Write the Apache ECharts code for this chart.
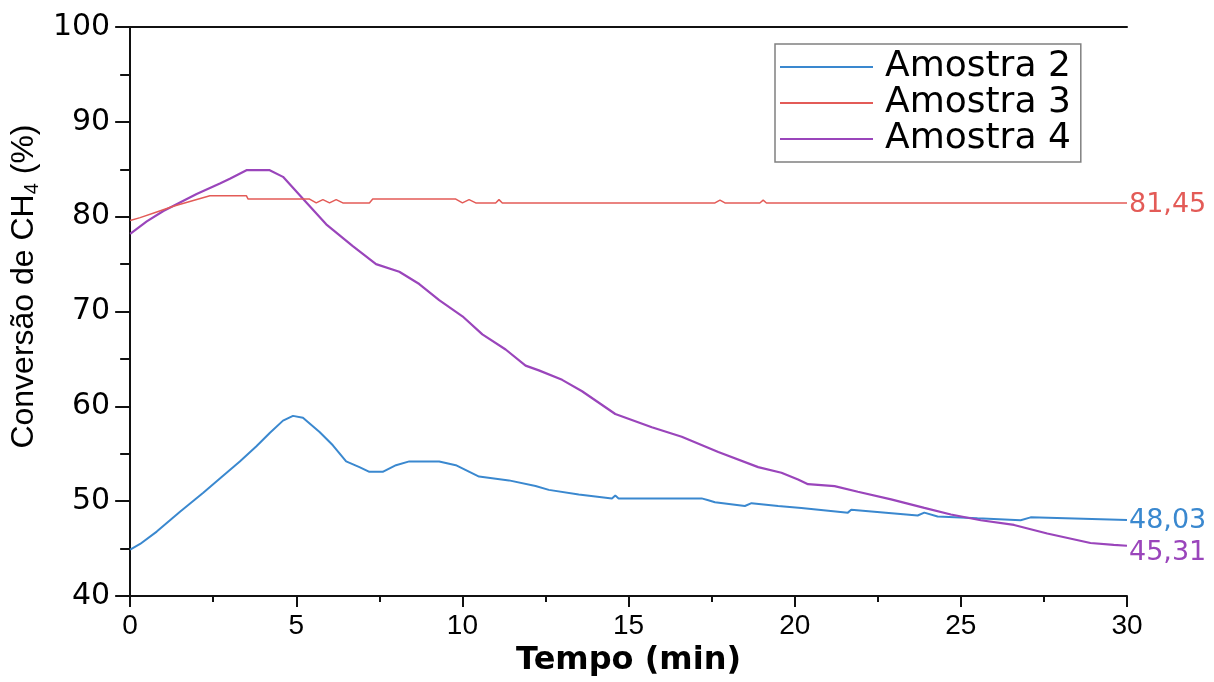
<!DOCTYPE html>
<html>
<head>
<meta charset="utf-8">
<script src="https://cdn.jsdelivr.net/npm/echarts@6/dist/echarts.min.js"></script>
<style>html,body{margin:0;padding:0;background:#fff}#c{width:1214px;height:682px}</style>
</head>
<body>
<div id="c"></div>
<script>
// ---- data ----
const seriesNames = ['Amostra 2', 'Amostra 3', 'Amostra 4'];
const endLabels = ['48,03', '81,45', '45,31'];

const timeA2 = [0, 0.3, 0.8, 1.5, 2.2, 2.7, 3.3, 3.8, 4.2, 4.6, 4.9, 5.2, 5.7, 6.1, 6.5, 6.9, 7.2, 7.6, 8.0, 8.4, 9.3, 9.8, 10.5, 11.4, 12.2, 12.6, 13.5, 14.5, 14.6, 14.7, 17.2, 17.4, 17.6, 18.5, 18.7, 19.5, 20.2, 21.6, 21.7, 23.7, 23.9, 24.3, 25.5, 26.8, 27.1, 30];
const valA2  = [44.9, 45.5, 46.8, 48.9, 50.9, 52.4, 54.2, 55.8, 57.2, 58.5, 59.0, 58.8, 57.3, 55.9, 54.2, 53.6, 53.1, 53.1, 53.8, 54.2, 54.2, 53.8, 52.6, 52.2, 51.6, 51.2, 50.7, 50.3, 50.6, 50.3, 50.3, 50.1, 49.9, 49.5, 49.8, 49.5, 49.3, 48.8, 49.1, 48.5, 48.8, 48.4, 48.2, 48.0, 48.3, 48.03];

const timeA3 = [0, 0.3, 0.8, 1.3, 1.9, 2.4, 3.5, 3.55, 5.4, 5.6, 5.8, 6.0, 6.2, 6.4, 6.6, 7.2, 7.3, 9.8, 10.0, 10.2, 10.4, 10.6, 11.0, 11.1, 11.2, 17.6, 17.75, 17.9, 18.95, 19.05, 19.15, 30];
const valA3  = [79.6, 79.9, 80.5, 81.1, 81.7, 82.2, 82.2, 81.86, 81.86, 81.45, 81.8, 81.45, 81.8, 81.45, 81.45, 81.45, 81.86, 81.86, 81.45, 81.8, 81.45, 81.45, 81.45, 81.8, 81.45, 81.45, 81.75, 81.45, 81.45, 81.75, 81.45, 81.45];

const timeA4 = [0, 0.5, 1.0, 1.5, 2.0, 2.7, 3.0, 3.5, 4.2, 4.6, 5.2, 5.9, 6.7, 7.4, 8.1, 8.7, 9.3, 10.0, 10.6, 11.3, 11.9, 12.3, 13.0, 13.6, 14.6, 15.7, 16.6, 17.7, 18.9, 19.6, 20.1, 20.4, 21.2, 21.9, 22.9, 23.9, 24.7, 25.6, 26.6, 27.6, 28.9, 29.6, 30];
const valA4  = [78.2, 79.5, 80.6, 81.5, 82.4, 83.5, 84.0, 84.9, 84.9, 84.2, 81.9, 79.2, 76.9, 75.0, 74.2, 72.9, 71.2, 69.5, 67.6, 66.0, 64.3, 63.8, 62.8, 61.6, 59.2, 57.8, 56.8, 55.2, 53.6, 53.0, 52.3, 51.8, 51.6, 51.0, 50.2, 49.3, 48.6, 48.0, 47.5, 46.6, 45.6, 45.4, 45.31];

const xTicks = { min: 0, max: 30, interval: 5 };
const yTicks = { min: 40, max: 100, interval: 10 };

// ---- chart ----
const colors = ['#3a88cf', '#e35b57', '#9a45bb'];
const widths = [2, 1.5, 2.2];
const zip = (t, v) => t.map((x, i) => [x, v[i]]);
const dataSets = [zip(timeA2, valA2), zip(timeA3, valA3), zip(timeA4, valA4)];
const labelOffsets = [[0, 1], [0, 2], [0, 7]];

const chart = echarts.init(document.getElementById('c'), null, { renderer: 'canvas' });
const axisLineStyle = { color: '#111', width: 2 };

chart.setOption({
  backgroundColor: '#fff',
  animation: false,
  grid: { left: 130, right: 87, top: 27, bottom: 75, containLabel: false },
  legend: {
    left: 775, top: 44, orient: 'vertical',
    padding: [5, 10, 5, 5],
    icon: 'rect', itemWidth: 93, itemHeight: 2, itemGap: 0,
    borderColor: '#808080', borderWidth: 1.5, backgroundColor: '#fff',
    textStyle: { fontFamily: 'DejaVu Sans', fontSize: 36, lineHeight: 36, color: '#000', padding: [0, 0, 0, 7] },
    data: seriesNames
  },
  xAxis: [{
    type: 'value', min: xTicks.min, max: xTicks.max, interval: xTicks.interval,
    name: 'Tempo (min)', nameLocation: 'middle', nameGap: 40,
    nameTextStyle: { fontFamily: 'DejaVu Sans', fontWeight: 'bold', fontSize: 32, color: '#000' },
    axisLine: { show: true, lineStyle: axisLineStyle },
    axisTick: { show: true, inside: false, length: 11, lineStyle: { color: '#111', width: 2 } },
    minorTick: { show: true, splitNumber: 2, length: 6, lineStyle: { color: '#111', width: 2 } },
    splitLine: { show: false },
    axisLabel: { margin: 16, fontFamily: 'Liberation Sans', fontSize: 28, color: '#000' }
  }, {
    type: 'value', position: 'top', min: xTicks.min, max: xTicks.max,
    axisLine: { show: true, lineStyle: axisLineStyle },
    axisTick: { show: false }, axisLabel: { show: false }, splitLine: { show: false }
  }],
  yAxis: [{
    type: 'value', min: yTicks.min, max: yTicks.max, interval: yTicks.interval,
    name: '{m|Conversão de CH}{s|4}{m| (%)}', nameLocation: 'middle', nameGap: 84, nameRotate: 90,
    nameTextStyle: {
      padding: [0, 0, 0, 50],
      rich: {
        m: { fontFamily: 'Liberation Sans', fontSize: 32, lineHeight: 36, color: '#000' },
        s: { fontFamily: 'Liberation Sans', fontSize: 20, lineHeight: 20, verticalAlign: 'bottom', color: '#000' }
      }
    },
    axisLine: { show: true, lineStyle: axisLineStyle },
    axisTick: { show: true, inside: false, length: 15, lineStyle: { color: '#111', width: 2 } },
    minorTick: { show: true, splitNumber: 2, length: 10, lineStyle: { color: '#111', width: 2 } },
    splitLine: { show: false },
    axisLabel: { margin: 20, fontFamily: 'DejaVu Sans', fontSize: 30, color: '#000' }
  }, {
    type: 'value', position: 'right', min: yTicks.min, max: yTicks.max,
    axisLine: { show: true, lineStyle: axisLineStyle },
    axisTick: { show: false }, axisLabel: { show: false }, splitLine: { show: false }
  }],
  series: seriesNames.map((n, i) => ({
    name: n, type: 'line', xAxisIndex: 0, yAxisIndex: 0,
    data: dataSets[i], symbol: 'none', showSymbol: false,
    lineStyle: { color: colors[i], width: widths[i] },
    itemStyle: { color: colors[i] },
    endLabel: {
      show: true, formatter: endLabels[i], color: colors[i],
      fontFamily: 'DejaVu Sans', fontSize: 27, distance: 2, offset: labelOffsets[i]
    },
    z: i === 1 ? 3 : 2
  }))
});
</script>
</body>
</html>
